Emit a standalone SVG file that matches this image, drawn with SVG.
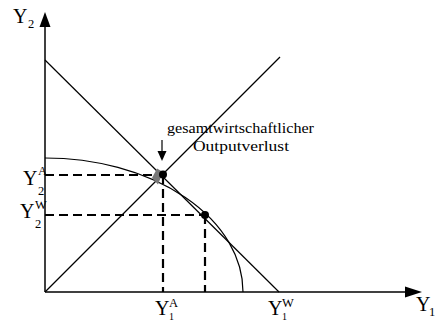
<svg xmlns="http://www.w3.org/2000/svg" width="435" height="322" viewBox="0 0 435 322">
<defs>
<style>
.big{font-size:20px}
.sm{font-size:12.5px}
.xs{font-size:10px}
.lbl{font-size:15.5px}
.ln{stroke:#000;stroke-width:1.2;fill:none}
.ax{stroke:#000;stroke-width:1.5;fill:none}
.dash{stroke:#000;stroke-width:2.2;stroke-dasharray:9 5;fill:none}
</style>
</defs>
<rect width="435" height="322" fill="#fff"/>
<g id="axes">
<line class="ax" x1="45" y1="292" x2="45" y2="26"/>
<polygon points="45,12 39.5,27 50.5,27" fill="#000"/>
<line class="ax" x1="45" y1="292" x2="406" y2="292"/>
<polygon points="422,292 405,286.5 405,297.5" fill="#000"/>
</g>
<g id="connectors">
<line class="ln" x1="45" y1="292" x2="280" y2="57"/>
<line class="ln" x1="45" y1="60" x2="279" y2="292"/>
<path class="ln" d="M45,158 A198,134 0 0 1 243,292"/>
<line class="dash" x1="45" y1="175" x2="163" y2="175"/>
<line class="dash" x1="163" y1="175" x2="163" y2="292"/>
<line class="dash" x1="45" y1="215" x2="205" y2="215"/>
<line class="dash" x1="205" y1="215" x2="205" y2="292"/>
<line class="ln" x1="162" y1="140" x2="162" y2="152"/>
<polygon points="162,161 157.5,151 166.5,151" fill="#000"/>
</g>
<g id="pointA">
<polygon points="152,178 157,168.5 163,172 158,184.5" fill="#777"/>
<circle cx="163" cy="174.5" r="4" fill="#000"/>
</g>
<g id="pointW">
<circle cx="205" cy="215" r="4" fill="#000"/>
</g>
<g font-family="'Liberation Serif', 'Times New Roman', serif" fill="#000">
<g id="label-Y2">
<text class="big" x="13" y="23">Y</text><text class="sm" x="28" y="28">2</text>
</g>
<g id="label-Y2A">
<text class="big" x="23" y="185">Y</text><text class="sm" x="38" y="175">A</text><text class="sm" x="38" y="195">2</text>
</g>
<g id="label-Y2W">
<text class="big" x="20" y="218">Y</text><text class="sm" x="35" y="209">W</text><text class="sm" x="35" y="228">2</text>
</g>
<g id="label-Y1A">
<text class="big" x="155" y="315">Y</text><text class="sm" x="169" y="307">A</text><text class="xs" x="169" y="320">1</text>
</g>
<g id="label-Y1W">
<text class="big" x="268" y="315">Y</text><text class="sm" x="282" y="307">W</text><text class="xs" x="282" y="320">1</text>
</g>
<g id="label-Y1">
<text class="big" x="416" y="311">Y</text><text class="sm" x="429" y="316">1</text>
</g>
<g id="label-loss">
<text class="lbl" x="167" y="133" textLength="147" lengthAdjust="spacingAndGlyphs">gesamtwirtschaftlicher</text>
<text class="lbl" x="193" y="151" textLength="96" lengthAdjust="spacingAndGlyphs">Outputverlust</text>
</g>
</g>
</svg>
